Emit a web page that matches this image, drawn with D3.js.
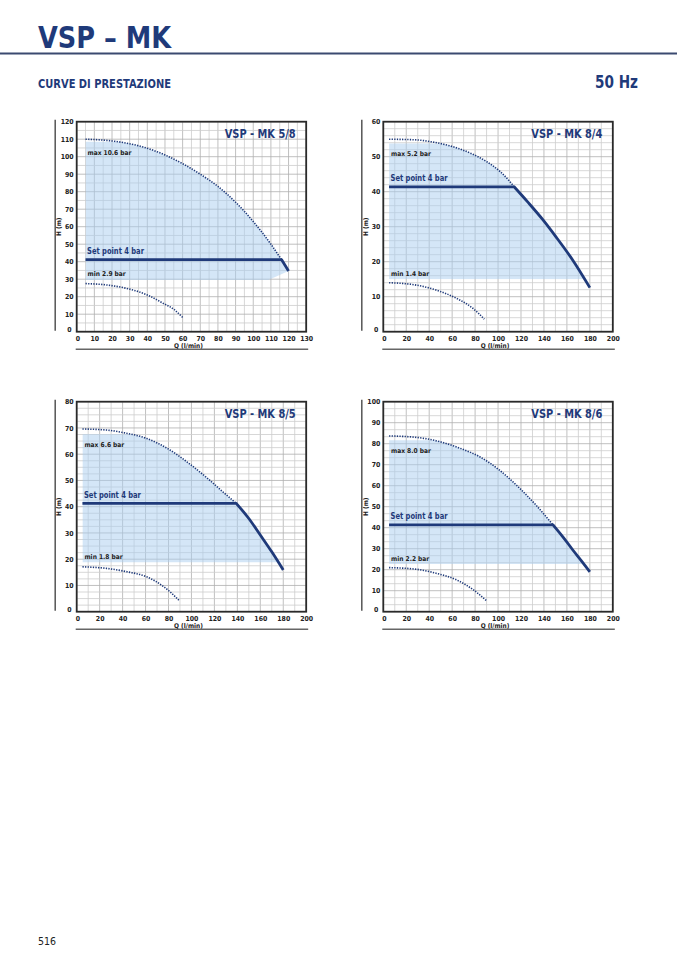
<!DOCTYPE html>
<html>
<head>
<meta charset="utf-8">
<script src="https://cdn.jsdelivr.net/npm/d3@7"></script>
<style>
  body { margin: 0; background: #fff; }
  svg text { font-family: "Liberation Sans Narrow", "DejaVu Sans Condensed", "Roboto", sans-serif; font-weight: bold; }
</style>
</head>
<body>
<svg id="page" width="677" height="958"></svg>
<script>
// ---- data read from the catalogue page (Q in l/min, H in m) ----
var chartTitles = ["VSP - MK 5/8", "VSP - MK 8/4", "VSP - MK 8/5", "VSP - MK 8/6"];
var maxLabels = ["max 10.6 bar", "max 5.2 bar", "max 6.6 bar", "max 8.0 bar"];
var minLabels = ["min 2.9 bar", "min 1.4 bar", "min 1.8 bar", "min 2.2 bar"];
var setPointLabel = "Set point 4 bar";

var xDomains = [[0, 130], [0, 200], [0, 200], [0, 200]];
var yDomains = [[0, 120], [0, 60], [0, 80], [0, 100]];
var xTickSteps = [10, 20, 20, 20];
var xGridSteps = [5, 10, 10, 10];
var yGridSteps = [5, 2, 2.5, 10 / 3];

// max pressure curve (dotted, up to the set point knee)
var max58 = [[5, 110], [20, 109], [36, 106], [50, 101], [60, 96], [70, 90], [80, 83], [90, 74], [100, 63], [110, 50], [116, 41.2]];
var max84 = [[5, 55], [29, 54.8], [41, 54.3], [58, 53.1], [76, 51], [90, 48.6], [102, 45.7], [110, 43], [114, 41.4]];
var max85 = [[5, 69.6], [26, 69.2], [41, 68.2], [61, 66], [79, 62.2], [96, 57.1], [114, 50.8], [127, 45.8], [139, 41.3]];
var max86 = [[5, 83.7], [29, 83], [49, 81], [67, 77.8], [84, 73.8], [101, 67.5], [119, 58.7], [133, 50.8], [148, 41.3]];

// min curve (dotted)
var min58 = [[5, 27.5], [17, 26.7], [28, 24.8], [40, 21], [49, 16.2], [55, 12.8], [60, 8.2]];
var min84 = [[5, 14], [29, 13.3], [46, 11.9], [64, 9.5], [78, 6.7], [88, 3.6]];
var min85 = [[5, 17.1], [26, 16.5], [44, 15.2], [61, 13.3], [76, 9.5], [89, 4.4]];
var min86 = [[5, 21], [29, 20.2], [46, 18.3], [64, 15.1], [78, 10.6], [90, 5.2]];

// pump curve after the set point knee (solid)
var pump58 = [[116, 41.2], [120, 34.7]];
var pump84 = [[114, 41.4], [126, 37], [139, 32], [150, 27.3], [165, 20.5], [180, 12.6]];
var pump85 = [[139, 41.3], [150, 35.5], [160, 29.2], [170, 22.8], [180, 15.9]];
var pump86 = [[148, 41.3], [157, 35.3], [165, 29.5], [173, 24], [180, 19]];

var setPoints = [41.2, 41.4, 41.3, 41.3];
var startQ = [5, 5, 5, 5];
var shadeTops = [108.5, 53.8, 67.6, 81.7];
var shadeBottoms = [29.6, 15, 18.7, 22.7];
var shadeCorners = [[108.6, 29.6], null, null, null];

var maxCurves = [max58, max84, max85, max86];
var minCurves = [min58, min84, min85, min86];
var pumpCurves = [pump58, pump84, pump85, pump86];

// ---- layout ----
var navy = "#1f3a7a";
var panels = [
  { left: 76.7, top: 121.7 }, { left: 383.3, top: 121.7 },
  { left: 76.7, top: 401.7 }, { left: 383.3, top: 401.7 }
];
var W = 229.5, H = 210;

var svg = d3.select("#page");

function fitText(sel, len) {
  return sel.attr("textLength", len).attr("lengthAdjust", "spacingAndGlyphs");
}

// page header
fitText(svg.append("text").attr("x", 38).attr("y", 47.5).attr("fill", navy)
  .style("font-size", "31px").text("VSP \u2013 MK"), 133);
svg.append("line").attr("x1", 0).attr("x2", 677).attr("y1", 53.5).attr("y2", 53.5)
  .attr("stroke", "#3b4a70").attr("stroke-width", 2);
fitText(svg.append("text").attr("x", 38).attr("y", 88).attr("fill", navy)
  .style("font-size", "11.5px").text("CURVE DI PRESTAZIONE"), 133);
fitText(svg.append("text").attr("x", 595).attr("y", 88).attr("fill", navy)
  .style("font-size", "17px").text("50 Hz"), 43);
svg.append("text").attr("x", 38).attr("y", 945).attr("fill", "#222")
  .style("font-size", "10.5px").style("font-weight", "normal").text("516");

var defs = svg.append("defs");

panels.forEach(function (p, i) {
  var x = d3.scaleLinear().domain(xDomains[i]).range([0, W]);
  var y = d3.scaleLinear().domain(yDomains[i]).range([H, 0]);
  var g = svg.append("g").attr("transform", "translate(" + p.left + "," + p.top + ")");

  // side decorations
  g.append("line").attr("x1", -21.5).attr("x2", -21.5).attr("y1", -2).attr("y2", H - 1)
    .attr("stroke", "#555").attr("stroke-width", 1.5);
  g.append("line").attr("x1", -1).attr("x2", W + 2).attr("y1", H + 17.5).attr("y2", H + 17.5)
    .attr("stroke", "#666").attr("stroke-width", 1.5);

  // grid
  var xMinor = d3.range(xDomains[i][0], xDomains[i][1] + 0.01, xGridSteps[i]);
  var yMinor = d3.range(yDomains[i][0], yDomains[i][1] + 0.01, yGridSteps[i]);
  function isMajor(v, step) {
    var r = Math.abs(v % step);
    return r < 0.01 || Math.abs(r - step) < 0.01;
  }
  g.append("g").selectAll("line").data(xMinor).enter().append("line")
    .attr("x1", function (d) { return x(d); }).attr("x2", function (d) { return x(d); })
    .attr("y1", 0).attr("y2", H)
    .attr("stroke", function (d) { return isMajor(d, xTickSteps[i]) ? "#b0b0b0" : "#cdcdcd"; })
    .attr("stroke-width", 0.8);
  g.append("g").selectAll("line").data(yMinor).enter().append("line")
    .attr("y1", function (d) { return y(d); }).attr("y2", function (d) { return y(d); })
    .attr("x1", 0).attr("x2", W)
    .attr("stroke", function (d) { return isMajor(d, 10) ? "#b0b0b0" : "#cdcdcd"; })
    .attr("stroke-width", 0.8);

  // shaded working area
  var line = d3.line().x(function (d) { return x(d[0]); }).y(function (d) { return y(d[1]); })
    .curve(d3.curveMonotoneX);
  var pump = pumpCurves[i];
  var last = pump[pump.length - 1];
  var d = line(maxCurves[i]) + "L" + line(pump).slice(1);
  var corner = shadeCorners[i];
  if (corner) {
    d += "L" + x(corner[0]) + "," + y(corner[1]);
  } else {
    d += "L" + x(last[0]) + "," + y(shadeBottoms[i]);
  }
  d += "L" + x(startQ[i]) + "," + y(shadeBottoms[i]) + "Z";
  var clipId = "clip" + i;
  defs.append("clipPath").attr("id", clipId).append("rect")
    .attr("x", x(startQ[i])).attr("y", y(shadeTops[i]))
    .attr("width", x(xDomains[i][1]) - x(startQ[i]))
    .attr("height", y(shadeBottoms[i]) - y(shadeTops[i]));
  g.append("path").attr("d", d).attr("clip-path", "url(#" + clipId + ")")
    .attr("fill", "#a9cdef").attr("fill-opacity", 0.5);

  // frame
  g.append("rect").attr("width", W).attr("height", H).attr("fill", "none")
    .attr("stroke", "#2a2a2a").attr("stroke-width", 1.8);

  // axes
  var xAxis = d3.axisBottom(x).tickValues(d3.range(xDomains[i][0], xDomains[i][1] + 0.01, xTickSteps[i]))
    .tickSize(0).tickPadding(4.5).tickFormat(d3.format("d"));
  var yAxis = d3.axisLeft(y).tickValues(d3.range(yDomains[i][0], yDomains[i][1] + 0.01, 10))
    .tickSize(0).tickPadding(3).tickFormat(d3.format("d"));
  var xa = g.append("g").attr("transform", "translate(0," + H + ")").call(xAxis);
  var ya = g.append("g").call(yAxis);
  [xa, ya].forEach(function (a) {
    a.select(".domain").remove();
    a.selectAll("text").attr("fill", "#222").style("font-size", "6.9px")
      .style("font-family", "\"Liberation Sans Narrow\", \"DejaVu Sans Condensed\", sans-serif");
  });
  ya.selectAll(".tick").filter(function (v) { return v === 0; }).select("text").attr("dy", "-0.1em").attr("x", -5);
  xa.selectAll(".tick").filter(function (v) { return v === 0; }).select("text").attr("dx", "0.1em");

  g.append("text").attr("x", W / 2 - 3).attr("y", H + 16).attr("text-anchor", "middle")
    .attr("fill", "#222").style("font-size", "6.5px").text("Q (l/min)");
  g.append("text").attr("transform", "translate(-15.5," + (H / 2) + ") rotate(-90)")
    .attr("text-anchor", "middle").attr("fill", "#222").style("font-size", "6.5px").text("H (m)");

  // dotted max / min curves
  [maxCurves[i], minCurves[i]].forEach(function (c) {
    g.append("path").attr("d", line(c)).attr("fill", "none").attr("stroke", navy)
      .attr("stroke-width", 1.6).attr("stroke-dasharray", "1.3,1.3");
  });

  // set point + pump curve
  g.append("path")
    .attr("d", d3.line().x(function (d) { return x(d[0]); }).y(function (d) { return y(d[1]); })([[startQ[i], setPoints[i]], pump[0]]) + "L" + line(pump).slice(1))
    .attr("fill", "none").attr("stroke", navy).attr("stroke-width", 2.8).attr("stroke-linejoin", "round");

  // labels
  fitText(g.append("text").attr("x", x(startQ[i]) + 1.5).attr("y", y(setPoints[i]) - 5.5)
    .attr("fill", navy).style("font-size", "9.5px").text(setPointLabel), 57);
  g.append("text").attr("x", x(startQ[i]) + 2).attr("y", y(shadeTops[i]) + 13)
    .attr("fill", "#222").style("font-size", "6.6px").text(maxLabels[i]);
  g.append("text").attr("x", x(startQ[i]) + 2).attr("y", y(shadeBottoms[i]) - 3.5)
    .attr("fill", "#222").style("font-size", "6.6px").text(minLabels[i]);
  fitText(g.append("text").attr("x", 148).attr("y", 16).attr("fill", navy)
    .style("font-size", "11.5px").text(chartTitles[i]), 71);
});
</script>
</body>
</html>
